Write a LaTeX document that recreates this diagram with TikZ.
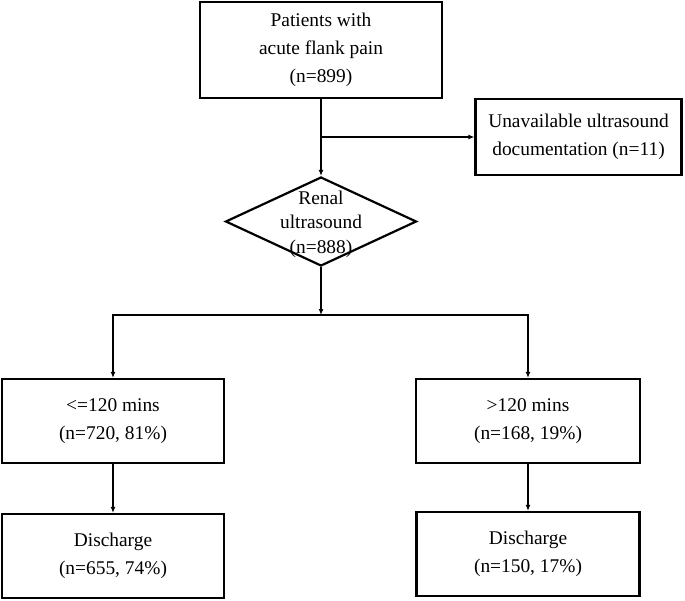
\documentclass[tikz,border=0pt]{standalone}
\usepackage{fontspec}
\setmainfont{Liberation Serif}
\usetikzlibrary{arrows.meta,positioning,calc,shapes.geometric}
\tikzset{
  flowbox/.style={rectangle,draw,line width=2.2pt,align=center,inner sep=0pt},
  flowdec/.style={diamond,draw,line width=2.2pt,inner sep=0pt,minimum width=191pt,minimum height=89pt,aspect=2.15},
  flowarr/.style={-{Latex[length=6pt,width=5pt]},line width=1.8pt}
}
\begin{document}
\begin{tikzpicture}[x=1pt,y=-1pt,font=\fontsize{19.4}{28}\selectfont]
  \useasboundingbox (0,0) rectangle (685,600);
  \node[flowbox,minimum width=242pt,minimum height=96pt] (pat) at (321,50) {Patients with\\acute flank pain\\(n=899)};
  \node[flowbox,minimum width=206pt,minimum height=76pt] (unav) at (578.5,137) {Unavailable ultrasound\\documentation (n=11)};
  \node[flowdec] (renal) at (321,221.5) {};
  \node[align=center,inner sep=0pt,font=\fontsize{19.4}{24.5}\selectfont] (renaltxt) at (321,224) {Renal\\ultrasound\\(n=888)};
  \node[flowbox,minimum width=222pt,minimum height=84pt] (short) at (113,421) {<=120 mins\\(n=720, 81\%)};
  \node[flowbox,minimum width=224pt,minimum height=84pt] (long) at (528,421) {>120 mins\\(n=168, 19\%)};
  \node[flowbox,minimum width=222pt,minimum height=84pt] (dshort) at (113,556) {Discharge\\(n=655, 74\%)};
  \node[flowbox,minimum width=223pt,minimum height=84pt] (dlong) at (528,554) {Discharge\\(n=150, 17\%)};
  \coordinate (branch) at (321,137);
  \coordinate (split) at (321,315);
  \draw[flowarr] (pat.south) -- (renal.north);
  \draw[flowarr] (branch) -- (unav.west);
  \draw[flowarr] (renal.south) -- (split);
  \draw[flowarr] (split) -| (short.north);
  \draw[flowarr] (split) -| (long.north);
  \draw[flowarr] (short.south) -- (dshort.north);
  \draw[flowarr] (long.south) -- (dlong.north);
\end{tikzpicture}
\end{document}
